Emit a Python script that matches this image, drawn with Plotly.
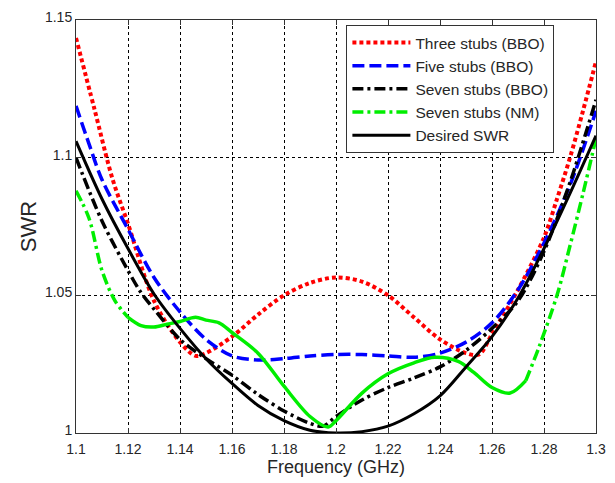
import plotly.graph_objects as go

# Frequency sample points (GHz) and SWR values for each design
f_three = [1.100, 1.107, 1.114, 1.120, 1.130, 1.140, 1.146, 1.150, 1.160, 1.170, 1.180, 1.190,
           1.200, 1.210, 1.220, 1.230, 1.240, 1.250, 1.255, 1.260, 1.270, 1.280, 1.285, 1.290,
           1.295, 1.300]
swr_three = [1.1435, 1.118, 1.0924, 1.076, 1.048, 1.033, 1.028, 1.029, 1.035, 1.043, 1.050, 1.0545,
             1.0565, 1.055, 1.050, 1.042, 1.034, 1.029, 1.0285, 1.036, 1.052, 1.071, 1.085, 1.100,
             1.117, 1.135]

f_five = [1.100, 1.105, 1.110, 1.120, 1.130, 1.140, 1.150, 1.160, 1.170, 1.180, 1.190, 1.200,
          1.210, 1.220, 1.230, 1.240, 1.250, 1.260, 1.270, 1.280, 1.290, 1.300]
swr_five = [1.1188, 1.105, 1.092, 1.074, 1.0565, 1.044, 1.034, 1.028, 1.0265, 1.027, 1.028, 1.0285,
            1.0285, 1.028, 1.0275, 1.029, 1.033, 1.040, 1.052, 1.069, 1.090, 1.117]

f_seven = [1.100, 1.110, 1.120, 1.125, 1.130, 1.140, 1.150, 1.160, 1.170, 1.180, 1.190, 1.195,
           1.200, 1.210, 1.220, 1.230, 1.240, 1.250, 1.260, 1.270, 1.280, 1.290, 1.300]
swr_seven = [1.100, 1.077, 1.059, 1.051, 1.045, 1.034, 1.027, 1.021, 1.014, 1.008, 1.0035, 1.0025,
             1.006, 1.012, 1.0165, 1.020, 1.024, 1.030, 1.038, 1.048, 1.066, 1.091, 1.121]

f_nm = [1.100, 1.105, 1.110, 1.115, 1.120, 1.125, 1.130, 1.135, 1.140, 1.146, 1.150, 1.155,
        1.160, 1.170, 1.180, 1.190, 1.197, 1.200, 1.210, 1.220, 1.230, 1.238, 1.247, 1.253,
        1.260, 1.267, 1.273, 1.278, 1.285, 1.290, 1.295, 1.300]
swr_nm = [1.088, 1.078, 1.059, 1.048, 1.042, 1.039, 1.0385, 1.0395, 1.0405, 1.042, 1.041, 1.040,
          1.0365, 1.029, 1.017, 1.006, 1.0022, 1.0045, 1.0145, 1.0215, 1.0255, 1.0275, 1.026, 1.022,
          1.0165, 1.0145, 1.019, 1.031, 1.050, 1.068, 1.087, 1.107]

f_desired = [1.100, 1.110, 1.120, 1.130, 1.140, 1.150, 1.160, 1.170, 1.180, 1.190, 1.200, 1.210,
             1.220, 1.230, 1.240, 1.250, 1.260, 1.270, 1.280, 1.290, 1.300]
swr_desired = [1.106, 1.085, 1.067, 1.0505, 1.038, 1.027, 1.018, 1.010, 1.0045, 1.001, 1.000, 1.0005,
               1.0025, 1.007, 1.0135, 1.024, 1.035, 1.049, 1.067, 1.087, 1.108]

x_ticks = [1.10, 1.12, 1.14, 1.16, 1.18, 1.20, 1.22, 1.24, 1.26, 1.28, 1.30]
x_labels = ["1.1", "1.12", "1.14", "1.16", "1.18", "1.2", "1.22", "1.24", "1.26", "1.28", "1.3"]
y_ticks = [1.00, 1.05, 1.10, 1.15]
y_labels = ["1", "1.05", "1.1", "1.15"]

FONT = "Arial, Liberation Sans, sans-serif"
TEXT = "#262626"
fig = go.Figure()

def add_line(x, y, name, color, width, dash, showlegend=True, group=None):
    fig.add_trace(go.Scatter(
        x=x, y=y, mode="lines", name=name,
        line=dict(color=color, width=width, dash=dash, shape="spline", smoothing=0.9),
        showlegend=showlegend, legendgroup=group or name,
    ))

add_line(f_three, swr_three, "Three stubs (BBO)", "#ff0000", 4, "4px,3px")
add_line(f_five, swr_five, "Five stubs (BBO)", "#0000ff", 3.5, "12px,5px")
add_line(f_seven, swr_seven, "Seven stubs (BBO)", "#000000", 3.5, "11px,4px,3px,4px")

# NM curve: dash-dot at both ends, continuous through the middle
i0 = f_nm.index(1.120)
i1 = f_nm.index(1.273)
add_line(f_nm[:i0 + 1], swr_nm[:i0 + 1], "Seven stubs (NM)", "#00ee00", 3.5,
         "11px,4px,3px,4px", True, "nm")
add_line(f_nm[i0:i1 + 1], swr_nm[i0:i1 + 1], "Seven stubs (NM)", "#00ee00", 3.5,
         "solid", False, "nm")
add_line(f_nm[i1:], swr_nm[i1:], "Seven stubs (NM)", "#00ee00", 3.5,
         "11px,4px,3px,4px", False, "nm")

add_line(f_desired, swr_desired, "Desired SWR", "#000000", 3, "solid")

axis_common = dict(
    showline=True, linecolor="#333333", linewidth=1, mirror="allticks",
    ticks="inside", ticklen=5, tickcolor="#333333",
    showgrid=True, gridcolor="#000000", gridwidth=1, griddash="dot",
    zeroline=False, tickfont=dict(family=FONT, size=14, color=TEXT),
    ticklabeloverflow="allow",
)

fig.update_xaxes(range=[1.1, 1.3], tickvals=x_ticks, ticktext=x_labels,
                 ticklabelstandoff=3,
                 title=dict(text="Frequency (GHz)", font=dict(family=FONT, size=18, color=TEXT),
                            standoff=1),
                 **axis_common)
fig.update_yaxes(range=[1.0, 1.15], tickvals=y_ticks, ticktext=y_labels,
                 ticklabelshift=-3,
                 title=dict(text="SWR", font=dict(family=FONT, size=22, color=TEXT),
                            standoff=2),
                 **axis_common)

fig.update_layout(
    width=615, height=483,
    margin=dict(l=76, r=9, t=19, b=50),
    plot_bgcolor="white", paper_bgcolor="white",
    font=dict(family=FONT, color=TEXT),
    legend=dict(
        x=0.52, y=0.988, xanchor="left", yanchor="top",
        bgcolor="white", bordercolor="#333333", borderwidth=1,
        font=dict(family=FONT, size=15.5, color=TEXT),
        itemwidth=58, tracegroupgap=0,
    ),
)

fig.write_html("out.html")
